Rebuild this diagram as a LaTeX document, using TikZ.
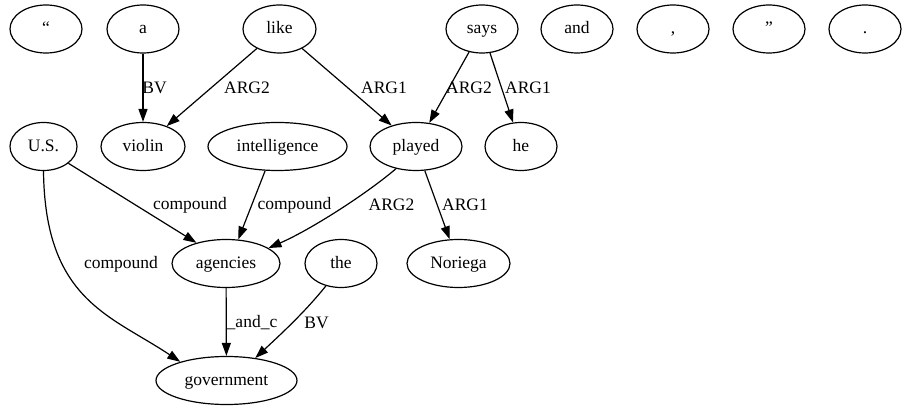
\documentclass[tikz,border=0pt]{standalone}
\usepackage{fontspec}
\setmainfont{Liberation Serif}
\usetikzlibrary{shapes.geometric,arrows.meta}
\begin{document}
\begin{tikzpicture}[x=1pt,y=1pt,
  every node/.style={font=\fontsize{17.5}{20}\selectfont},
  word/.style={ellipse,draw,line width=1.2pt,inner sep=0pt,minimum height=48pt,text height=14pt,text depth=4pt},
  edge/.style={line width=1.2pt,-{Triangle[length=13pt,width=9pt]}},
  lab/.style={anchor=base,inner sep=0pt}]
\useasboundingbox (0,0) rectangle (907,-411);
% row 1
\node[word,minimum width=72pt] (lq) at (46,-29) {``};
\node[word,minimum width=72pt] (a) at (143,-29) {a};
\node[word,minimum width=73pt] (like) at (279.5,-29) {like};
\node[word,minimum width=72pt] (says) at (482,-29) {says};
\node[word,minimum width=72pt] (and) at (577,-29) {and};
\node[word,minimum width=72pt] (comma) at (673,-29) {,};
\node[word,minimum width=72pt] (rq) at (769,-29) {''};
\node[word,minimum width=72pt] (dot) at (865,-29) {.};
% row 2
\node[word,minimum width=67pt] (US) at (43.5,-146.5) {U.S.};
\node[word,minimum width=84pt] (violin) at (143,-146.5) {violin};
\node[word,minimum width=139pt] (intelligence) at (277.5,-146.5) {intelligence};
\node[word,minimum width=92pt] (played) at (416,-146.5) {played};
\node[word,minimum width=72pt] (he) at (521,-146.5) {he};
% row 3
\node[word,minimum width=108pt] (agencies) at (226,-263.5) {agencies};
\node[word,minimum width=72pt] (the) at (341,-263.5) {the};
\node[word,minimum width=103pt] (Noriega) at (458.5,-263.5) {Noriega};
% row 4
\node[word,minimum width=141pt] (government) at (226.5,-380.5) {government};
% edges
\draw[edge] (a) -- (violin);
\draw[edge] (like) -- (violin);
\draw[edge] (like) -- (played);
\draw[edge] (says) -- (played);
\draw[edge] (says) -- (he);
\draw[edge] (US.326) -- (agencies.145);
\draw[edge] (intelligence.243) -- (agencies.63);
\draw[edge] (played.228) .. controls (365,-195) and (310,-230) .. (agencies.20);
\draw[edge] (played) -- (Noriega);
\draw[edge] (US.south) .. controls (45,-300) and (110,-315) .. (government.158);
\draw[edge] (agencies) -- (government);
\draw[edge] (the.236) .. controls (305,-312) and (281,-334) .. (government.38);
% labels
\node[lab] (l1) at (154.5,-94) {BV};
\node[lab] (l2) at (247,-94) {ARG2};
\node[lab] (l3) at (384,-94) {ARG1};
\node[lab] (l4) at (469,-94) {ARG2};
\node[lab] (l5) at (528,-94) {ARG1};
\node[lab] (l6) at (190,-210) {compound};
\node[lab] (l7) at (294.5,-210) {compound};
\node[lab] (l8) at (391.5,-211) {ARG2};
\node[lab] (l9) at (465,-211) {ARG1};
\node[lab] (l10) at (121,-269) {compound};
\node[lab] (l11) at (252,-328) {\_and\_c};
\node[lab] (l12) at (316.5,-329) {BV};
\end{tikzpicture}
\end{document}
